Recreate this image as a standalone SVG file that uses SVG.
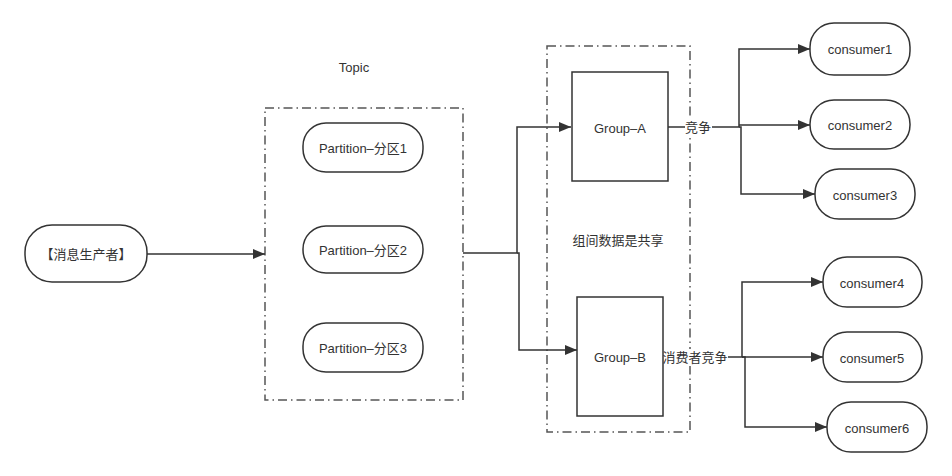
<svg xmlns="http://www.w3.org/2000/svg" width="952" height="476" viewBox="0 0 952 476">
<style>
text{font-family:"Liberation Sans","Noto Sans CJK SC",sans-serif;font-size:13px;fill:#333;text-anchor:middle;dominant-baseline:central}
.node{fill:#fff;stroke:#333;stroke-width:1.5}
.frame{fill:none;stroke:#555;stroke-width:1.5;stroke-dasharray:9 4 1.5 4}
.edge{fill:none;stroke:#333;stroke-width:1.5}
.lbl{fill:#fff;stroke:none}
</style>
<defs>
<marker id="arr" markerWidth="12" markerHeight="10" refX="12" refY="5" orient="auto" markerUnits="userSpaceOnUse">
<path d="M0,0 L12,5 L0,10 Z" fill="#333"/>
</marker>
</defs>
<g id="topic">
<rect class="frame" x="265" y="108" width="198" height="292"/>
<text x="354" y="67">Topic</text>
</g>
<g id="groups">
<rect class="frame" x="547" y="46" width="143" height="386"/>
<text x="618" y="240">组间数据是共享</text>
</g>
<g id="connectors">
<path class="edge" d="M147,254 H265" marker-end="url(#arr)"/>
<path class="edge" d="M463,253 H517 V127 H571" marker-end="url(#arr)"/>
<path class="edge" d="M517,253 H519 V350 H577" marker-end="url(#arr)"/>
<path class="edge" d="M668,127 H739 V49 H810" marker-end="url(#arr)"/>
<path class="edge" d="M739,125 H810" marker-end="url(#arr)"/>
<path class="edge" d="M739,127 H741 V194 H815" marker-end="url(#arr)"/>
<path class="edge" d="M663,357 H742 V282 H823" marker-end="url(#arr)"/>
<path class="edge" d="M742,357 H823" marker-end="url(#arr)"/>
<path class="edge" d="M742,357 H745 V427 H827" marker-end="url(#arr)"/>
<rect class="lbl" x="685" y="119" width="27" height="17"/>
<text x="698" y="127">竞争</text>
<rect class="lbl" x="663" y="349" width="65" height="17"/>
<text x="695" y="357">消费者竞争</text>
</g>
<g id="producer">
<rect class="node" x="25" y="225" width="122" height="57" rx="27"/>
<text x="86" y="254">【消息生产者】</text>
</g>
<g id="partition1">
<rect class="node" x="303" y="123" width="120" height="49" rx="23"/>
<text x="363" y="148">Partition–分区1</text>
</g>
<g id="partition2">
<rect class="node" x="303" y="226" width="120" height="47" rx="23"/>
<text x="363" y="250">Partition–分区2</text>
</g>
<g id="partition3">
<rect class="node" x="303" y="323" width="120" height="49" rx="23"/>
<text x="363" y="348">Partition–分区3</text>
</g>
<g id="groupA">
<rect class="node" x="572" y="72" width="96" height="109"/>
<text x="620" y="128">Group–A</text>
</g>
<g id="groupB">
<rect class="node" x="577" y="297" width="86" height="119"/>
<text x="620" y="357">Group–B</text>
</g>
<g id="consumer1">
<rect class="node" x="810" y="23" width="100" height="52" rx="24"/>
<text x="860" y="49">consumer1</text>
</g>
<g id="consumer2">
<rect class="node" x="810" y="100" width="100" height="49" rx="24"/>
<text x="860" y="125">consumer2</text>
</g>
<g id="consumer3">
<rect class="node" x="815" y="169" width="100" height="50" rx="24"/>
<text x="865" y="195">consumer3</text>
</g>
<g id="consumer4">
<rect class="node" x="823" y="257" width="99" height="50" rx="24"/>
<text x="872" y="283">consumer4</text>
</g>
<g id="consumer5">
<rect class="node" x="823" y="332" width="99" height="50" rx="24"/>
<text x="872" y="358">consumer5</text>
</g>
<g id="consumer6">
<rect class="node" x="827" y="402" width="100" height="50" rx="24"/>
<text x="877" y="428">consumer6</text>
</g>
</svg>
